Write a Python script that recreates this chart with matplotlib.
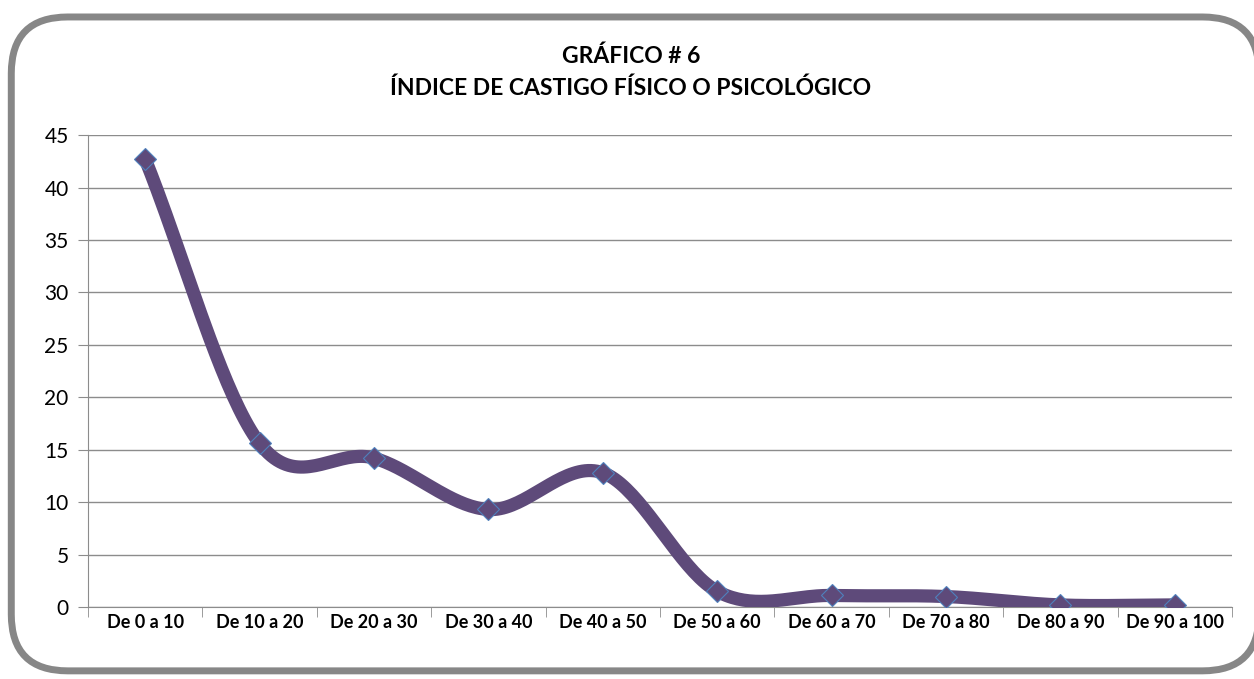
import numpy as np
import matplotlib
matplotlib.use("Agg")
import matplotlib.pyplot as plt
from matplotlib.patches import FancyBboxPatch

plt.rcParams['font.family'] = ['Lato', 'DejaVu Sans']

categorias = ["De 0 a 10", "De 10 a 20", "De 20 a 30", "De 30 a 40", "De 40 a 50",
              "De 50 a 60", "De 60 a 70", "De 70 a 80", "De 80 a 90", "De 90 a 100"]
valores = [42.7, 15.6, 14.2, 9.3, 12.8, 1.5, 1.1, 1.0, 0.2, 0.2]
titulo = "GRÁFICO # 6\nÍNDICE DE CASTIGO FÍSICO O PSICOLÓGICO"


def suavizar(x, y, n=40):
    # curva tipo excel (catmull-rom) entre los puntos
    x = np.asarray(x, float)
    y = np.asarray(y, float)
    px = np.concatenate([[2 * x[0] - x[1]], x, [2 * x[-1] - x[-2]]])
    py = np.concatenate([[2 * y[0] - y[1]], y, [2 * y[-1] - y[-2]]])
    xs, ys = [], []
    t = np.linspace(0, 1, n)
    for i in range(1, len(px) - 2):
        for p, out in ((px, xs), (py, ys)):
            p0, p1, p2, p3 = p[i - 1], p[i], p[i + 1], p[i + 2]
            out.extend(0.5 * ((2 * p1) + (-p0 + p2) * t
                              + (2 * p0 - 5 * p1 + 4 * p2 - p3) * t ** 2
                              + (-p0 + 3 * p1 - 3 * p2 + p3) * t ** 3))
    return np.array(xs), np.array(ys)


fig = plt.figure(figsize=(12.54, 6.79), dpi=100)

marco = FancyBboxPatch((0.009, 0.012), 0.995, 0.963, boxstyle="round,pad=0,rounding_size=0.045",
                       transform=fig.transFigure, facecolor="white", edgecolor="#878787",
                       linewidth=5, mutation_aspect=1254 / 679, zorder=-5)
fig.patches.append(marco)

ax = fig.add_axes([0.0702, 0.106, 0.9123, 0.695])
ax.set_facecolor("none")

x = np.arange(len(categorias))
xs, ys = suavizar(x, valores)
ax.plot(xs, ys, color="#5E4A7A", linewidth=9.5, solid_capstyle="butt", zorder=3)
ax.plot(x, valores, linestyle="none", marker="D", markersize=11, markerfacecolor="#5E4A7A",
        markeredgecolor="#4F81BD", markeredgewidth=0.8, zorder=4)

ax.set_xlim(-0.5, len(categorias) - 0.5)
ax.set_ylim(0, 45)
ax.set_yticks(range(0, 46, 5))
ax.yaxis.grid(True, color="#8C8C8C", linewidth=1)
ax.set_axisbelow(True)

ax.set_xticks(x)
ax.set_xticklabels(categorias, fontsize=13, fontweight="bold")
ax.set_xticks(np.arange(-0.5, len(categorias)), minor=True)
ax.tick_params(axis="x", which="major", length=0, pad=5)
ax.tick_params(axis="x", which="minor", length=7, color="#8C8C8C", direction="out")
ax.tick_params(axis="y", length=7, color="#8C8C8C", labelsize=15, pad=7)

for s in ["top", "right"]:
    ax.spines[s].set_visible(False)
for s in ["left", "bottom"]:
    ax.spines[s].set_color("#8C8C8C")

fig.text(0.503, 0.893, titulo, ha="center", va="center", fontsize=16.5, fontweight="bold",
         linespacing=1.6)

fig.savefig("out.png", dpi=100)
